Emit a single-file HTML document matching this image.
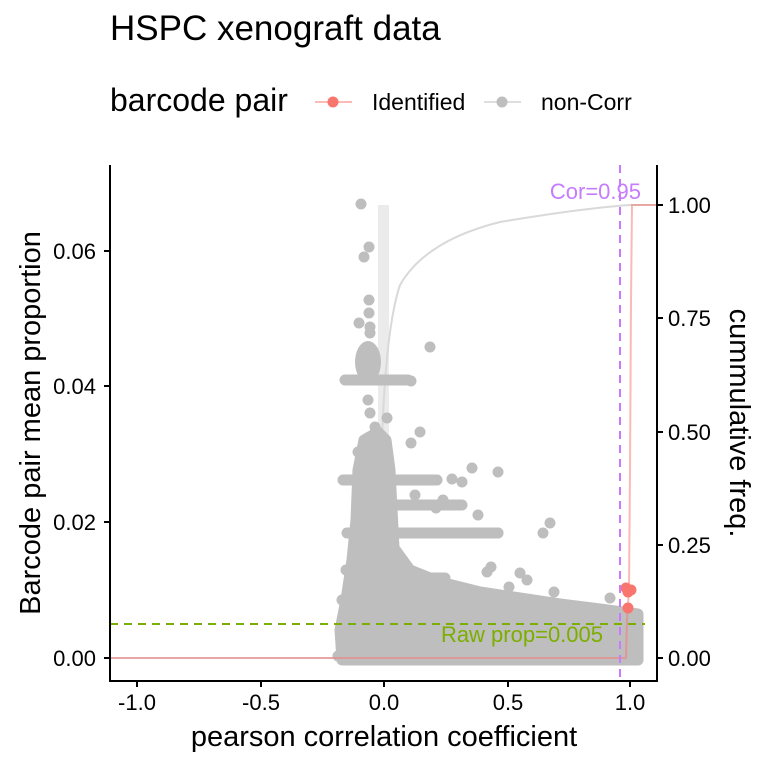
<!DOCTYPE html>
<html><head><style>
body{margin:0;background:#fff}
svg{display:block;font-family:"Liberation Sans",Arial,sans-serif}
</style></head><body>
<svg width="768" height="768" viewBox="0 0 768 768" xmlns="http://www.w3.org/2000/svg">
<rect width="768" height="768" fill="#fff"/>
<text x="110" y="40" font-size="35" fill="#000">HSPC xenograft data</text>
<text x="110" y="111" font-size="32" fill="#000">barcode pair</text>
<line x1="315" y1="102" x2="352" y2="102" stroke="#f8766d" stroke-opacity="0.5" stroke-width="2"/>
<circle cx="333" cy="102" r="5.5" fill="#f8766d"/>
<text x="372" y="110" font-size="23">Identified</text>
<line x1="484" y1="102" x2="521" y2="102" stroke="#bebebe" stroke-opacity="0.5" stroke-width="2"/>
<circle cx="502" cy="102" r="5.5" fill="#bebebe"/>
<text x="541" y="110" font-size="23">non-Corr</text>

<rect x="378" y="205" width="11" height="453" fill="#ebebeb"/>
<path d="M110,658 L377,658 L379,560 C381,420 385,330 400,285 C420,250 460,232 500,222 C560,212 600,207 630,205 L657,205" fill="none" stroke="#d9d9d9" stroke-width="2"/>

<g fill="#bebebe" stroke="#bebebe">
<polygon stroke-width="11" stroke-linejoin="round" points="342,660 638,660 638,614 600,609 560,604 520,598 480,592 440,582 410,570 394,548 390,470 386,440 378,432 364,440 358,470 356,520 352,560 346,600 340,630"/>
<g stroke-width="11" stroke-linecap="round" fill="none">
<line x1="345" y1="380" x2="408" y2="380"/>
<line x1="343" y1="480" x2="437" y2="480"/>
<line x1="347" y1="533" x2="498" y2="533"/>
<line x1="362" y1="505" x2="462" y2="505"/>
<line x1="360" y1="578" x2="445" y2="578"/>
</g>
<ellipse cx="368" cy="362" rx="13" ry="21" stroke="none"/>
<g stroke="none">
<circle cx="361" cy="204" r="5.5"/><circle cx="369" cy="247" r="5.5"/><circle cx="364" cy="257" r="5.5"/>
<circle cx="369" cy="300" r="5.5"/><circle cx="369" cy="313" r="5.5"/><circle cx="359" cy="323" r="5.5"/>
<circle cx="370" cy="327" r="5.5"/><circle cx="370" cy="333" r="5.5"/><circle cx="430" cy="347" r="5.5"/>
<circle cx="411" cy="381" r="5.5"/><circle cx="368" cy="400" r="5.5"/><circle cx="370" cy="413" r="5.5"/>
<circle cx="375" cy="427" r="5.5"/><circle cx="387" cy="418" r="5.5"/><circle cx="420" cy="432" r="5.5"/>
<circle cx="411" cy="443" r="5.5"/><circle cx="472" cy="468" r="5.5"/><circle cx="498" cy="472" r="5.5"/>
<circle cx="452" cy="479" r="5.5"/><circle cx="462" cy="482" r="5.5"/><circle cx="415" cy="495" r="5.5"/>
<circle cx="443" cy="500" r="5.5"/><circle cx="436" cy="508" r="5.5"/><circle cx="478" cy="515" r="5.5"/>
<circle cx="550" cy="523" r="5.5"/><circle cx="543" cy="533" r="5.5"/><circle cx="498" cy="533" r="5.5"/>
<circle cx="491" cy="567" r="5.5"/><circle cx="487" cy="572" r="5.5"/><circle cx="520" cy="573" r="5.5"/>
<circle cx="527" cy="580" r="5.5"/><circle cx="509" cy="587" r="5.5"/><circle cx="554" cy="592" r="5.5"/>
<circle cx="610" cy="598" r="5.5"/><circle cx="584" cy="612" r="5.5"/><circle cx="595" cy="615" r="5.5"/>
<circle cx="630" cy="628" r="5.5"/><circle cx="338" cy="656" r="5.5"/><circle cx="365" cy="460" r="5.5"/>
<circle cx="358" cy="452" r="5.5"/><circle cx="383" cy="465" r="5.5"/><circle cx="342" cy="600" r="5.5"/>
<circle cx="346" cy="570" r="5.5"/>
</g>
</g>

<path d="M110,658 L626,658 L627,620 L629,590 L630,470 L631,300 L632,205 L657,205" fill="none" stroke="#f8766d" stroke-opacity="0.5" stroke-width="2"/>

<g fill="#f8766d">
<circle cx="626" cy="588" r="5.5"/><circle cx="631" cy="590" r="5.5"/><circle cx="628" cy="592" r="5.5"/>
<circle cx="628" cy="608" r="5.5"/>
</g>

<line x1="620" y1="165" x2="620" y2="681" stroke="#c77cff" stroke-width="2" stroke-dasharray="8,6"/>
<line x1="110" y1="624" x2="645" y2="624" stroke="#7cae00" stroke-width="2" stroke-dasharray="8,6"/>
<text x="641" y="199" font-size="22" fill="#c77cff" text-anchor="end">Cor=0.95</text>
<text x="603" y="642" font-size="22" fill="#7cae00" text-anchor="end">Raw prop=0.005</text>

<g stroke="#000" stroke-width="2">
<line x1="110" y1="165" x2="110" y2="682"/>
<line x1="109" y1="681" x2="658" y2="681"/>
<line x1="657" y1="165" x2="657" y2="682"/>
<line x1="104" y1="658" x2="110" y2="658"/><line x1="104" y1="522" x2="110" y2="522"/>
<line x1="104" y1="386" x2="110" y2="386"/><line x1="104" y1="251" x2="110" y2="251"/>
<line x1="657" y1="658" x2="663" y2="658"/><line x1="657" y1="545" x2="663" y2="545"/>
<line x1="657" y1="432" x2="663" y2="432"/><line x1="657" y1="318" x2="663" y2="318"/>
<line x1="657" y1="205" x2="663" y2="205"/>
<line x1="137" y1="681" x2="137" y2="687"/><line x1="261" y1="681" x2="261" y2="687"/>
<line x1="384" y1="681" x2="384" y2="687"/><line x1="508" y1="681" x2="508" y2="687"/>
<line x1="630" y1="681" x2="630" y2="687"/>
</g>
<g font-size="22" fill="#000">
<g text-anchor="end">
<text x="96" y="666">0.00</text><text x="96" y="530">0.02</text>
<text x="96" y="394">0.04</text><text x="96" y="259">0.06</text>
</g>
<text x="668" y="666">0.00</text><text x="668" y="553">0.25</text>
<text x="668" y="440">0.50</text><text x="668" y="326">0.75</text><text x="668" y="213">1.00</text>
<g text-anchor="middle">
<text x="137" y="710">-1.0</text><text x="261" y="710">-0.5</text>
<text x="384" y="710">0.0</text><text x="508" y="710">0.5</text><text x="630" y="710">1.0</text>
</g>
</g>
<text x="384" y="746" font-size="29" text-anchor="middle">pearson correlation coefficient</text>
<text transform="translate(40,423) rotate(-90)" font-size="29" text-anchor="middle">Barcode pair mean proportion</text>
<text transform="translate(730,423) rotate(90)" font-size="29" text-anchor="middle">cummulative freq.</text>
</svg>
</body></html>
